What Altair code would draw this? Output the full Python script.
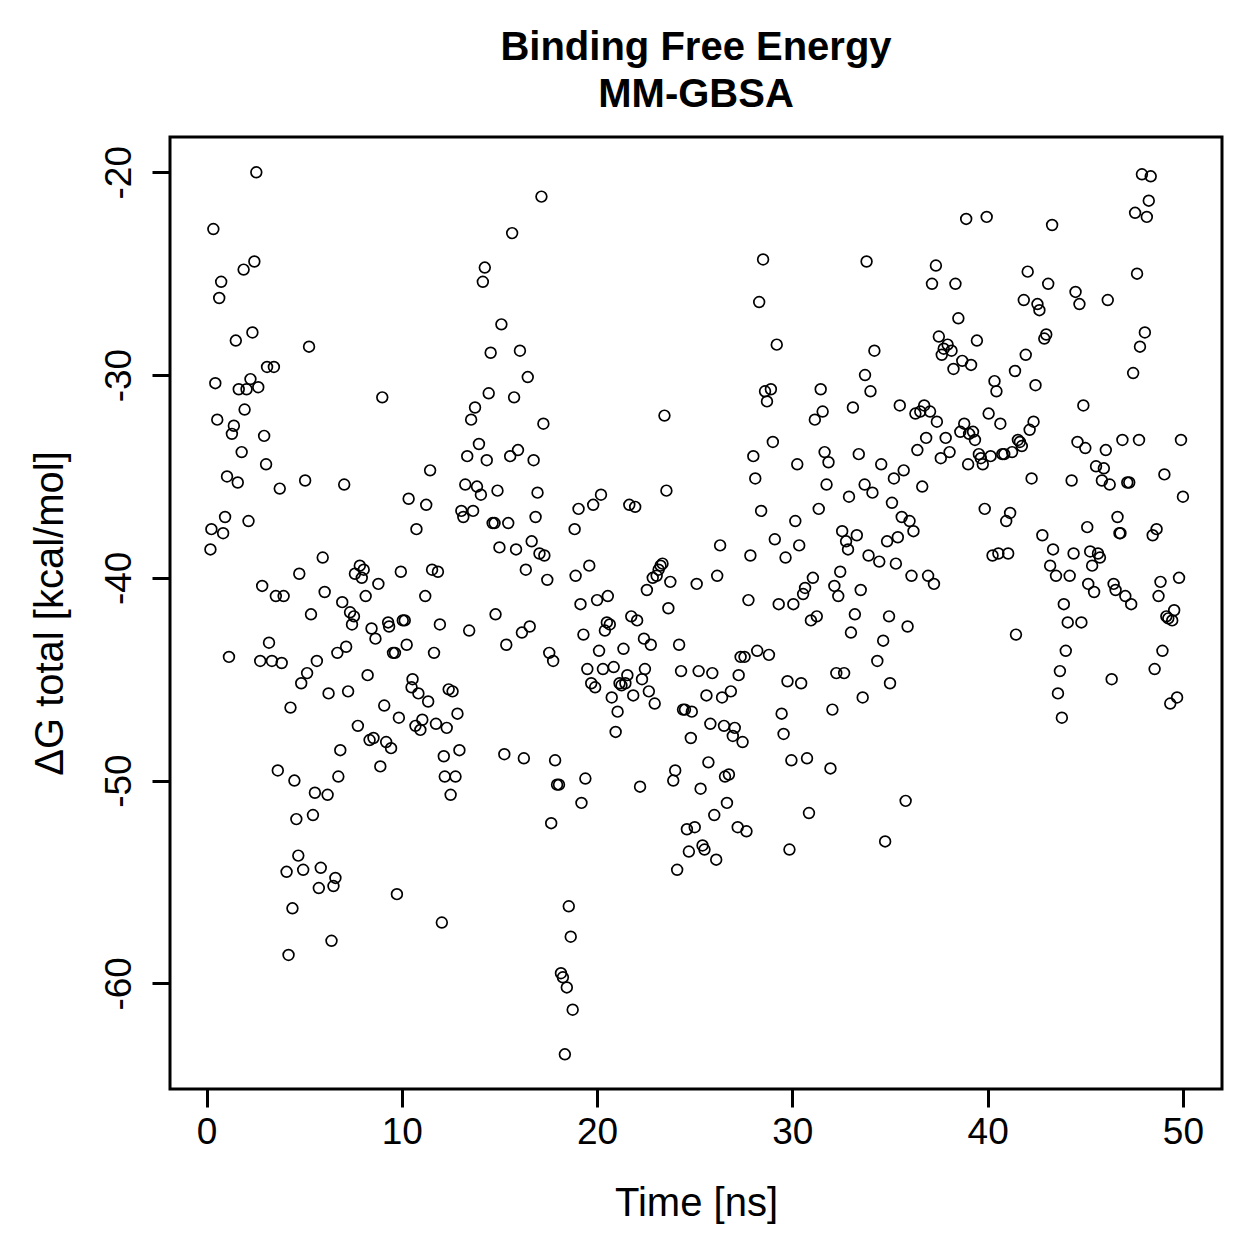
import altair as alt
import pandas as pd

time_ns = [
    0.2, 0.25, 0.35, 0.45, 0.55, 0.65, 0.75, 0.85, 0.95, 1.05, 1.15, 1.3, 1.4, 1.5, 1.6, 1.65, 1.8, 1.9, 1.95, 2.05,
    2.15, 2.25, 2.35, 2.45, 2.55, 2.65, 2.75, 2.85, 2.95, 3.05, 3.1, 3.2, 3.35, 3.45, 3.55, 3.65, 3.75, 3.85, 3.95, 4.1,
    4.2, 4.3, 4.4, 4.5, 4.6, 4.7, 4.75, 4.85, 4.95, 5.05, 5.15, 5.25, 5.35, 5.45, 5.55, 5.65, 5.75, 5.85, 5.95, 6.05,
    6.2, 6.25, 6.4, 6.5, 6.6, 6.7, 6.75, 6.85, 6.95, 7.05, 7.15, 7.25, 7.35, 7.45, 7.55, 7.6, 7.75, 7.85, 7.95, 8.05,
    8.15, 8.25, 8.35, 8.45, 8.55, 8.65, 8.8, 8.9, 9.0, 9.1, 9.2, 9.3, 9.35, 9.45, 9.55, 9.65, 9.75, 9.85, 9.95, 10.05,
    10.15, 10.25, 10.35, 10.5, 10.55, 10.7, 10.75, 10.85, 10.95, 11.05, 11.2, 11.25, 11.35, 11.45, 11.55, 11.65, 11.75, 11.85, 11.95, 12.05,
    12.15, 12.2, 12.3, 12.4, 12.5, 12.6, 12.75, 12.85, 12.95, 13.05, 13.15, 13.25, 13.35, 13.45, 13.55, 13.65, 13.75, 13.85, 13.95, 14.05,
    14.15, 14.25, 14.35, 14.45, 14.55, 14.65, 14.75, 14.8, 14.9, 15.0, 15.1, 15.25, 15.35, 15.45, 15.55, 15.65, 15.75, 15.85, 15.95, 16.05,
    16.15, 16.25, 16.35, 16.45, 16.55, 16.65, 16.75, 16.85, 16.95, 17.05, 17.15, 17.25, 17.3, 17.45, 17.55, 17.65, 17.75, 17.85, 17.95, 18.05,
    18.15, 18.25, 18.35, 18.45, 18.55, 18.65, 18.75, 18.85, 18.9, 19.05, 19.15, 19.2, 19.3, 19.4, 19.5, 19.6, 19.7, 19.8, 19.9, 20.0,
    20.1, 20.2, 20.3, 20.4, 20.5, 20.55, 20.65, 20.75, 20.85, 20.95, 21.05, 21.15, 21.25, 21.35, 21.45, 21.55, 21.65, 21.75, 21.85, 21.95,
    22.05, 22.2, 22.3, 22.4, 22.45, 22.55, 22.65, 22.75, 22.85, 22.95, 23.05, 23.15, 23.25, 23.35, 23.45, 23.55, 23.65, 23.75, 23.9, 24.0,
    24.1, 24.2, 24.3, 24.4, 24.5, 24.6, 24.7, 24.8, 24.85, 25.0, 25.1, 25.2, 25.3, 25.4, 25.5, 25.6, 25.7, 25.8, 25.9, 26.0,
    26.1, 26.15, 26.3, 26.4, 26.5, 26.55, 26.65, 26.75, 26.85, 26.95, 27.05, 27.2, 27.25, 27.35, 27.45, 27.55, 27.65, 27.75, 27.85, 28.0,
    28.1, 28.2, 28.3, 28.4, 28.5, 28.6, 28.7, 28.8, 28.9, 29.0, 29.1, 29.2, 29.3, 29.45, 29.55, 29.65, 29.75, 29.85, 29.95, 30.05,
    30.15, 30.25, 30.35, 30.45, 30.55, 30.65, 30.75, 30.85, 30.95, 31.05, 31.15, 31.25, 31.35, 31.45, 31.55, 31.65, 31.75, 31.85, 31.95, 32.05,
    32.15, 32.25, 32.35, 32.45, 32.55, 32.65, 32.75, 32.85, 32.9, 33.0, 33.1, 33.2, 33.3, 33.4, 33.5, 33.6, 33.7, 33.72, 33.8, 33.9,
    34.0, 34.1, 34.2, 34.35, 34.45, 34.55, 34.65, 34.75, 34.85, 34.95, 35.0, 35.1, 35.2, 35.3, 35.4, 35.5, 35.6, 35.7, 35.8, 35.9,
    36.0, 36.1, 36.2, 36.3, 36.4, 36.55, 36.65, 36.75, 36.85, 36.95, 37.05, 37.15, 37.25, 37.35, 37.4, 37.5, 37.6, 37.65, 37.75, 37.85,
    37.95, 38.05, 38.15, 38.25, 38.35, 38.5, 38.6, 38.7, 38.8, 38.9, 39.0, 39.05, 39.15, 39.25, 39.35, 39.45, 39.55, 39.65, 39.75, 39.85,
    39.95, 40.05, 40.15, 40.25, 40.35, 40.45, 40.55, 40.65, 40.75, 40.85, 40.95, 41.05, 41.15, 41.25, 41.4, 41.45, 41.55, 41.65, 41.75, 41.85,
    41.95, 42.05, 42.15, 42.25, 42.35, 42.45, 42.55, 42.65, 42.8, 42.9, 43.0, 43.1, 43.2, 43.3, 43.35, 43.5, 43.6, 43.7, 43.8, 43.9,
    44.0, 44.1, 44.2, 44.3, 44.4, 44.5, 44.6, 44.7, 44.8, 44.9, 45.0, 45.1, 45.15, 45.25, 45.35, 45.45, 45.55, 45.65, 45.75, 45.85,
    45.95, 46.05, 46.15, 46.25, 46.35, 46.45, 46.55, 46.65, 46.75, 46.8, 46.9, 47.05, 47.15, 47.25, 47.35, 47.45, 47.55, 47.65, 47.75, 47.8,
    47.9, 48.05, 48.15, 48.25, 48.35, 48.45, 48.55, 48.65, 48.75, 48.85, 48.95, 49.05, 49.15, 49.25, 49.35, 49.45, 49.55, 49.7, 49.8, 49.9,
    50.0,
]

dg_total = [
    -38.6, -37.6, -22.8, -30.4, -32.2, -26.2, -25.4, -37.8, -37.0, -35.0, -43.9, -32.9, -32.5, -28.3, -35.3, -30.7, -33.8, -24.8, -31.7, -30.7,
    -37.2, -30.2, -27.9, -24.4, -20.0, -30.6, -44.1, -40.4, -33.0, -34.4, -29.6, -43.2, -44.1, -29.6, -40.9, -49.5, -35.6, -44.2, -40.9, -54.5,
    -58.6, -46.4, -56.3, -50.0, -51.9, -53.7, -39.8, -45.2, -54.4, -35.2, -44.7, -28.6, -41.8, -51.7, -50.6, -44.1, -55.3, -54.3, -39.0, -40.7,
    -50.7, -45.7, -57.9, -55.2, -54.8, -43.7, -49.8, -48.5, -41.2, -35.4, -43.4, -45.6, -41.7, -42.3, -41.9, -39.8, -47.3, -39.4, -40.0, -39.6,
    -40.9, -44.8, -48.0, -42.5, -47.9, -43.0, -40.3, -49.3, -31.1, -46.3, -48.1, -42.2, -42.4, -48.4, -43.7, -43.7, -55.6, -46.9, -39.7, -42.1,
    -42.1, -43.3, -36.1, -45.4, -45.0, -47.3, -37.6, -45.7, -47.5, -47.0, -40.9, -36.4, -46.1, -34.7, -39.6, -43.7, -47.2, -39.7, -42.3, -57.0,
    -48.8, -49.8, -47.4, -45.5, -50.7, -45.6, -49.8, -46.7, -48.5, -36.7, -37.0, -35.4, -34.0, -42.6, -32.2, -36.7, -31.6, -35.5, -33.4, -35.9,
    -25.4, -24.7, -34.2, -30.9, -28.9, -37.3, -37.3, -41.8, -35.7, -38.5, -27.5, -48.7, -43.3, -37.3, -34.0, -23.0, -31.1, -38.6, -33.7, -28.8,
    -42.7, -48.9, -39.6, -30.1, -42.4, -38.2, -34.2, -37.0, -35.8, -38.8, -21.2, -32.4, -38.9, -40.1, -43.7, -52.1, -44.1, -49.0, -50.2, -50.2,
    -59.5, -59.7, -63.5, -60.2, -56.2, -57.7, -61.3, -37.6, -39.9, -36.6, -41.3, -51.1, -42.8, -49.9, -44.5, -39.4, -45.2, -36.4, -45.4, -41.1,
    -43.6, -35.9, -44.5, -42.6, -42.2, -40.9, -42.3, -45.9, -44.4, -47.6, -46.6, -45.2, -45.3, -43.5, -45.2, -44.8, -36.4, -41.9, -45.8, -36.5,
    -42.1, -50.3, -45.0, -43.0, -44.5, -40.6, -45.6, -43.3, -40.0, -46.2, -39.9, -39.6, -39.4, -39.3, -32.0, -35.7, -41.5, -40.2, -50.0, -49.5,
    -54.4, -43.3, -44.6, -46.5, -46.5, -52.4, -53.5, -47.9, -46.6, -52.3, -40.3, -44.6, -50.4, -53.2, -53.4, -45.8, -49.1, -47.2, -44.7, -51.7,
    -53.9, -39.9, -38.4, -45.9, -47.3, -49.8, -51.1, -49.7, -45.6, -47.8, -47.4, -52.3, -44.8, -43.9, -48.1, -43.9, -52.5, -41.1, -38.9, -34.0,
    -35.1, -43.6, -26.4, -36.7, -24.3, -30.8, -31.3, -43.8, -30.7, -33.3, -38.1, -28.5, -41.3, -46.7, -47.7, -39.0, -45.1, -53.4, -49.0, -41.3,
    -37.2, -34.4, -38.4, -45.2, -40.8, -40.5, -48.9, -51.6, -42.1, -40.0, -32.2, -41.9, -36.6, -30.7, -31.8, -33.8, -35.4, -34.3, -49.4, -46.5,
    -40.4, -44.7, -40.9, -39.7, -37.7, -44.7, -38.2, -38.6, -36.0, -42.7, -31.6, -41.8, -37.9, -33.9, -40.6, -45.9, -35.4, -30.0, -24.4, -38.9,
    -30.8, -35.8, -28.8, -44.1, -39.2, -34.4, -43.1, -53.0, -38.2, -41.9, -45.2, -36.3, -35.1, -39.3, -38.0, -31.5, -37.0, -34.7, -51.0, -42.4,
    -37.2, -39.9, -37.7, -31.9, -33.7, -31.8, -35.5, -31.5, -33.1, -39.9, -31.8, -25.5, -40.3, -24.6, -32.3, -28.1, -34.1, -29.0, -28.7, -33.1,
    -28.5, -33.8, -28.8, -29.7, -25.5, -27.2, -32.8, -29.3, -32.4, -22.3, -34.4, -32.9, -29.5, -32.8, -33.2, -28.3, -33.9, -34.1, -34.4, -36.6,
    -22.2, -31.9, -34.0, -38.9, -30.3, -30.8, -38.8, -32.4, -33.9, -33.9, -37.2, -38.8, -36.8, -33.8, -29.8, -42.8, -33.2, -33.3, -33.5, -26.3,
    -29.0, -24.9, -32.7, -35.1, -32.3, -30.5, -26.5, -26.8, -37.9, -28.2, -28.0, -25.5, -39.4, -22.6, -38.6, -39.9, -45.7, -44.6, -46.9, -41.3,
    -43.6, -42.2, -39.9, -35.2, -38.8, -25.9, -33.3, -26.5, -42.2, -31.5, -33.6, -37.5, -40.3, -38.7, -39.4, -40.7, -34.5, -38.8, -39.0, -35.2,
    -34.6, -33.7, -26.3, -35.4, -45.0, -40.3, -40.6, -37.0, -37.8, -37.8, -33.2, -40.9, -35.3, -35.3, -41.3, -29.9, -22.0, -25.0, -33.2, -28.6,
    -20.1, -27.9, -22.2, -21.4, -20.2, -37.9, -44.5, -37.6, -40.9, -40.2, -43.6, -34.9, -41.9, -42.0, -46.2, -42.1, -41.6, -45.9, -40.0, -33.2,
    -36.0,
]

x_ticks = [0, 10, 20, 30, 40, 50]
y_ticks = [-60, -50, -40, -30, -20]

df = pd.DataFrame({"t": time_ns, "dg": dg_total})

FONT = "Liberation Sans"

chart = (
    alt.Chart(df)
    .mark_point(shape="circle", filled=False, color="black", size=115, strokeWidth=1.7, opacity=1)
    .encode(
        x=alt.X(
            "t:Q",
            scale=alt.Scale(domain=[-1.87, 52.0], nice=False, zero=False),
            axis=alt.Axis(
                values=x_ticks, title="Time [ns]", grid=False, domain=False,
                tickSize=18, tickWidth=3, tickColor="black",
                labelFontSize=37, labelFont=FONT, labelColor="black", labelPadding=7,
                labelBaseline="top", labelFlush=False,
                titleFontSize=40, titleFont=FONT, titleFontWeight="normal", titleColor="black",
                titleX=526, titleY=126, titleBaseline="alphabetic", titleAlign="center",
            ),
        ),
        y=alt.Y(
            "dg:Q",
            scale=alt.Scale(domain=[-65.21, -18.26], nice=False, zero=False),
            axis=alt.Axis(
                values=y_ticks, title="ΔG total [kcal/mol]", grid=False, domain=False,
                tickSize=18, tickWidth=3, tickColor="black",
                labelExpr="'' + datum.value",
                labelFontSize=37, labelFont=FONT, labelColor="black", labelPadding=14,
                labelAngle=270, labelAlign="center", labelBaseline="bottom", labelFlush=False,
                titleFontSize=40, titleFont=FONT, titleFontWeight="normal", titleColor="black",
                titleAngle=270, titleX=-100, titleY=476, titleBaseline="bottom", titleAlign="center",
            ),
        ),
    )
    .properties(
        width=1052,
        height=952,
        title=alt.TitleParams(
            text=["Binding Free Energy", "MM-GBSA"],
            fontSize=40, font=FONT, fontWeight="bold", color="black",
            anchor="middle", lineHeight=47, baseline="bottom", offset=24, dy=42,
        ),
        autosize=alt.AutoSizeParams(type="none"),
        padding={"left": 170, "top": 137, "right": 37, "bottom": 170},
    )
    .configure(background="white")
    .configure_view(stroke="black", strokeWidth=3)
)

chart.save("out.html", embed_options={"renderer": "svg", "actions": False})
